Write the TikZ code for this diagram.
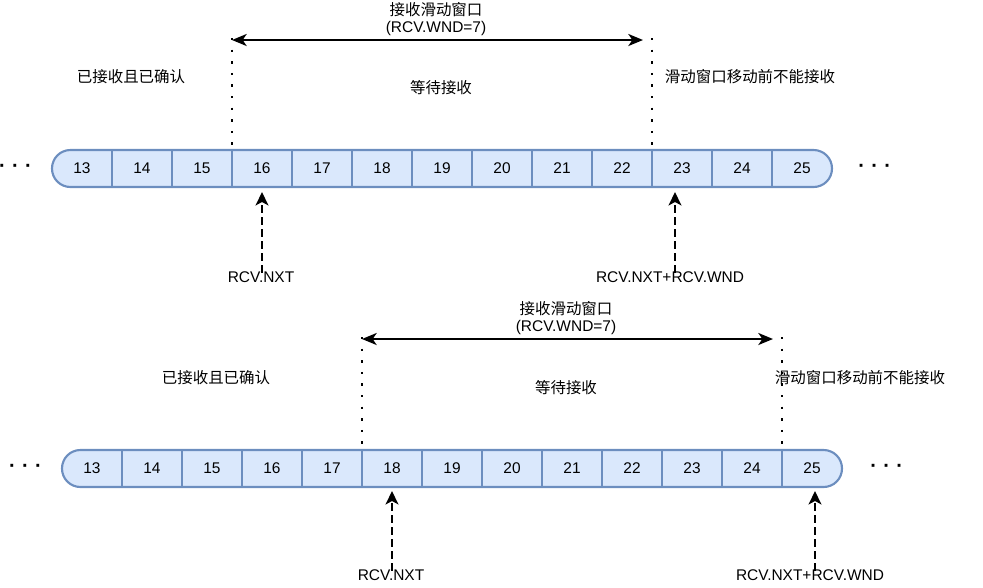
\documentclass[tikz,border=0pt]{standalone}
\usepackage{fontspec}
\setmainfont{Liberation Sans}
\newfontfamily\cjk{Noto Sans CJK SC}
\usetikzlibrary{arrows.meta}
\definecolor{cellfill}{HTML}{DAE8FC}
\definecolor{celldraw}{HTML}{6C8EBF}
\begin{document}
\begin{tikzpicture}[x=0.75pt,y=-0.75pt,font=\fontsize{11.6}{13}\selectfont,
  cell/.style={minimum width=45pt,minimum height=27.75pt,inner sep=0pt,outer sep=0pt},
  tape/.style={draw=celldraw,line width=1.6pt},
  dotline/.style={draw=black,line width=1.6pt,dash pattern=on 1.8pt off 6.9pt},
  warrow/.style={draw=black,line width=1.6pt,{Stealth[length=11pt,width=9pt,inset=3pt]}-{Stealth[length=11pt,width=9pt,inset=3pt]}},
  darrow/.style={draw=black,line width=2.2pt,dash pattern=on 6pt off 3pt,-{Stealth[length=10pt,width=9.5pt,inset=2.5pt]}},
  lbl/.style={inner sep=1pt},
  dots/.style={inner sep=0pt,font=\fontsize{15}{15}\selectfont\bfseries}]
\useasboundingbox (0,0) rectangle (983,587);

% ---------------- top row ----------------
\fill[cellfill] (52,150) [rounded corners=13.8pt] rectangle (832,187);
\foreach \n [count=\i from 0] in {13,14,15,16,17,18,19,20,21,22,23,24,25}{
  \node[cell] (a\n) at ({82+60*\i},168.5) {\n};
}
\draw[tape,rounded corners=13.8pt] (52,150) rectangle (832,187);
\foreach \n in {13,14,15,16,17,18,19,20,21,22,23,24}{
  \draw[tape] (a\n.north east) -- (a\n.south east);
}
\node[dots] (dl1) at (15.5,168) {·\hspace{4.8pt}·\hspace{4.8pt}·};
\node[dots] (dr1) at (874.7,168) {·\hspace{4.8pt}·\hspace{4.8pt}·};

\coordinate (tl1) at (232,38);
\coordinate (tr1) at (652,38);
\draw[dotline] (tl1) -- (a16.north west);
\draw[dotline] (tr1) -- (a23.north west);
\coordinate (wl1) at (232,40);
\coordinate (wr1) at (643,40);
\draw[warrow] (wl1) -- (wr1);
\node[lbl] (wt1) at (436,10) {\cjk 接收滑动窗口};
\node[lbl] (wn1) at (436,28) {(RCV.WND=7)};
\node[lbl] (acc1) at (131,77) {\cjk 已接收且已确认};
\node[lbl] (wait1) at (441,88) {\cjk 等待接收};
\node[lbl] (no1) at (750,77) {\cjk 滑动窗口移动前不能接收};

\node[lbl] (nxt1) at (261,277) {RCV.NXT};
\node[lbl] (nw1) at (670,277) {RCV.NXT+RCV.WND};
\coordinate (q1) at (262,192);
\draw[darrow] ([yshift=-2pt]nxt1.north -| q1) -- (q1);
\coordinate (p1) at (675,192);
\draw[darrow] ([yshift=-2pt]nw1.north -| p1) -- (p1);

% ---------------- bottom row ----------------
\fill[cellfill] (62,450) [rounded corners=13.8pt] rectangle (842,487);
\foreach \n [count=\i from 0] in {13,14,15,16,17,18,19,20,21,22,23,24,25}{
  \node[cell] (b\n) at ({92+60*\i},468.5) {\n};
}
\draw[tape,rounded corners=13.8pt] (62,450) rectangle (842,487);
\foreach \n in {13,14,15,16,17,18,19,20,21,22,23,24}{
  \draw[tape] (b\n.north east) -- (b\n.south east);
}
\node[dots] (dl2) at (25.5,468) {·\hspace{4.8pt}·\hspace{4.8pt}·};
\node[dots] (dr2) at (886.7,468) {·\hspace{4.8pt}·\hspace{4.8pt}·};

\coordinate (tl2) at (362,337);
\coordinate (tr2) at (782,337);
\draw[dotline] (tl2) -- (b18.north west);
\draw[dotline] (tr2) -- (b25.north west);
\coordinate (wl2) at (362,339);
\coordinate (wr2) at (773,339);
\draw[warrow] (wl2) -- (wr2);
\node[lbl] (wt2) at (566,309) {\cjk 接收滑动窗口};
\node[lbl] (wn2) at (566,327) {(RCV.WND=7)};
\node[lbl] (acc2) at (216,378) {\cjk 已接收且已确认};
\node[lbl] (wait2) at (566,388) {\cjk 等待接收};
\node[lbl] (no2) at (860,378) {\cjk 滑动窗口移动前不能接收};

\node[lbl] (nxt2) at (391,575) {RCV.NXT};
\node[lbl] (nw2) at (810,575) {RCV.NXT+RCV.WND};
\coordinate (q2) at (392,491);
\draw[darrow] ([yshift=-2pt]nxt2.north -| q2) -- (q2);
\coordinate (p2) at (815,491);
\draw[darrow] ([yshift=-2pt]nw2.north -| p2) -- (p2);
\end{tikzpicture}
\end{document}
